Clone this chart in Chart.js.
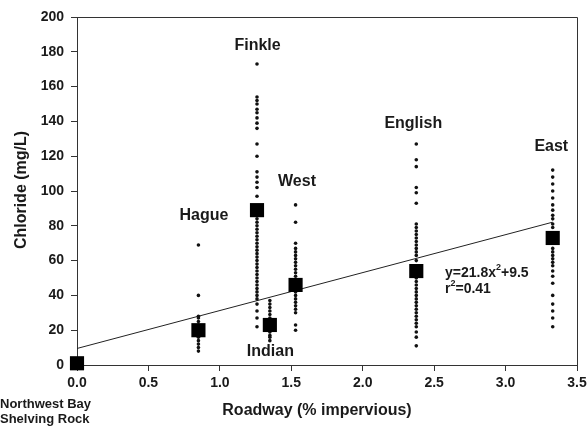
<!DOCTYPE html>
<html>
<head>
<meta charset="utf-8">
<script src="https://cdn.jsdelivr.net/npm/chart.js@4/dist/chart.umd.min.js"></script>
<style>
  html, body { margin: 0; padding: 0; background: #fff; }
  #wrap { width: 587px; height: 427px; position: relative; }
</style>
</head>
<body>
<div id="wrap"><canvas id="chart"></canvas></div>
<script>
// Sites (x = roadway % impervious)
const siteNames = ['Northwest Bay', 'Hague', 'Finkle', 'Indian', 'West', 'English', 'East'];
const siteX = [0, 0.85, 1.26, 1.35, 1.53, 2.375, 3.33];
const siteMeans = [1, 20, 89, 23, 46, 54, 73];

// Individual chloride samples (mg/L)
const nwbVals = [];
const hagueVals = [69, 40, 28, 27, 25, 23, 21, 18, 16, 14, 12, 10, 8];
const finkleVals = [173, 154, 152, 150, 147, 145, 142, 139, 136, 127, 120, 111, 108, 105, 102, 97, 86, 84, 82, 80, 78, 76, 74, 72, 70, 68, 66, 64, 62, 60, 58, 56, 54, 52, 50, 48, 46, 44, 42, 40, 38, 35, 31, 27, 22];
const indianVals = [37, 35, 33, 31, 29, 27, 25, 21, 19, 17, 16, 14];
const westVals = [92, 82, 70, 67, 65, 63, 61, 59, 57, 55, 53, 51, 49, 44, 42, 40, 38, 36, 34, 32, 30, 23, 20];
const englishVals = [127, 118, 114, 102, 99, 93, 81, 79, 77, 75, 73, 71, 69, 67, 65, 63, 60, 57, 50, 48, 46, 44, 42, 40, 38, 36, 34, 32, 30, 28, 26, 24, 22, 19, 16, 11];
const eastVals = [112, 108, 104, 100, 96, 92, 89, 86, 84, 81, 79, 70, 67, 65, 63, 61, 59, 57, 54, 51, 47, 40, 35, 31, 27, 22];
const siteSamples = [nwbVals, hagueVals, finkleVals, indianVals, westVals, englishVals, eastVals];

// Regression line end points
const fitX = [0, 3.33];
const fitY = [9.5, 82.1];

// Axis ranges
const xMin = 0, xMax = 3.5, xStep = 0.5;
const yMin = 0, yMax = 200, yStep = 20;

const INK = '#1a1a1a';
const FONT = "'Liberation Sans', Arial, sans-serif";

// build datasets
const samplePts = [];
siteSamples.forEach((vals, i) => vals.forEach(v => samplePts.push({ x: siteX[i], y: v })));
const meanPts = siteX.map((x, i) => ({ x: x, y: siteMeans[i] }));
const fitPts = fitX.map((x, i) => ({ x: x, y: fitY[i] }));

// text placed in data coordinates
const siteLabels = [
    { text: 'Finkle', x: 1.264, y: 183.3 },
    { text: 'Hague', x: 0.889, y: 85.6 },
    { text: 'West', x: 1.54, y: 105.2 },
    { text: 'English', x: 2.354, y: 138.5 },
    { text: 'East', x: 3.32, y: 125.3 },
    { text: 'Indian', x: 1.354, y: 7.8 }
];

const textPlugin = {
    id: 'annotText',
    afterDraw(chart) {
        const { ctx, chartArea, scales: { x, y } } = chart;
        ctx.save();

        // frame top + right
        ctx.strokeStyle = '#333';
        ctx.lineWidth = 1;
        ctx.beginPath();
        ctx.moveTo(chartArea.left, chartArea.top + 0.5);
        ctx.lineTo(chartArea.right + 0.5, chartArea.top + 0.5);
        ctx.lineTo(chartArea.right + 0.5, chartArea.bottom);
        ctx.stroke();

        ctx.fillStyle = INK;
        ctx.textAlign = 'center';
        ctx.textBaseline = 'middle';
        ctx.font = 'bold 16px ' + FONT;
        siteLabels.forEach(l => ctx.fillText(l.text, x.getPixelForValue(l.x), y.getPixelForValue(l.y)));

        // equation with superscripts
        ctx.textAlign = 'left';
        let ex = x.getPixelForValue(2.576);
        let ey = y.getPixelForValue(52.9);
        const parts1 = [['y=21.8x', false], ['2', true], ['+9.5', false]];
        const parts2 = [['r', false], ['2', true], ['=0.41', false]];
        [[parts1, ey], [parts2, y.getPixelForValue(43.7)]].forEach(([parts, py]) => {
            let cx = ex;
            parts.forEach(([t, sup]) => {
                ctx.font = sup ? 'bold 9px ' + FONT : 'bold 14px ' + FONT;
                ctx.fillText(t, cx, sup ? py - 5 : py);
                cx += ctx.measureText(t).width;
            });
        });

        // site names under the 0.0 tick
        ctx.font = 'bold 13px ' + FONT;
        ctx.fillText('Northwest Bay', 0, 404);
        ctx.fillText('Shelving Rock', 0, 419);

        // axis titles
        ctx.font = 'bold 16px ' + FONT;
        ctx.textAlign = 'center';
        ctx.fillText('Roadway (% impervious)', 317, 411);
        ctx.translate(22, 190);
        ctx.rotate(-Math.PI / 2);
        ctx.fillText('Chloride (mg/L)', 0, 0);
        ctx.restore();
    }
};

new Chart(document.getElementById('chart'), {
    type: 'scatter',
    data: {
        datasets: [
            {
                label: 'mean',
                data: meanPts,
                pointStyle: 'rect',
                pointRadius: 10,
                backgroundColor: '#000',
                borderColor: '#000',
                borderWidth: 0,
                clip: false
            },
            {
                label: 'samples',
                data: samplePts,
                pointStyle: 'circle',
                pointRadius: 1.8,
                backgroundColor: '#111',
                borderWidth: 0,
                clip: false
            },
            {
                label: 'fit',
                data: fitPts,
                showLine: true,
                borderColor: '#222',
                borderWidth: 1,
                pointRadius: 0,
                clip: false
            }
        ]
    },
    options: {
        responsive: true,
        maintainAspectRatio: false,
        animation: false,
        layout: { padding: { top: 17, right: 6, left: 0, bottom: 0 } },
        plugins: { legend: { display: false }, tooltip: { enabled: false } },
        scales: {
            x: {
                type: 'linear', min: xMin, max: xMax,
                ticks: {
                    stepSize: xStep, color: INK, padding: 4,
                    font: { family: FONT, size: 14, weight: 'bold' },
                    callback: v => v.toFixed(1), maxRotation: 0
                },
                grid: { drawOnChartArea: false, tickLength: 6, color: '#333' },
                border: { color: '#333' },
                afterFit: s => { s.height = 62; s.paddingLeft = 0; s.paddingRight = 0; }
            },
            y: {
                type: 'linear', min: yMin, max: yMax,
                ticks: {
                    stepSize: yStep, color: INK, padding: 7,
                    font: { family: FONT, size: 14, weight: 'bold' }
                },
                grid: { drawOnChartArea: false, tickLength: 6, color: '#333' },
                border: { color: '#333' },
                afterFit: s => { s.width = 77; s.paddingTop = 0; s.paddingBottom = 0; }
            }
        }
    },
    plugins: [textPlugin]
});
</script>
</body>
</html>
